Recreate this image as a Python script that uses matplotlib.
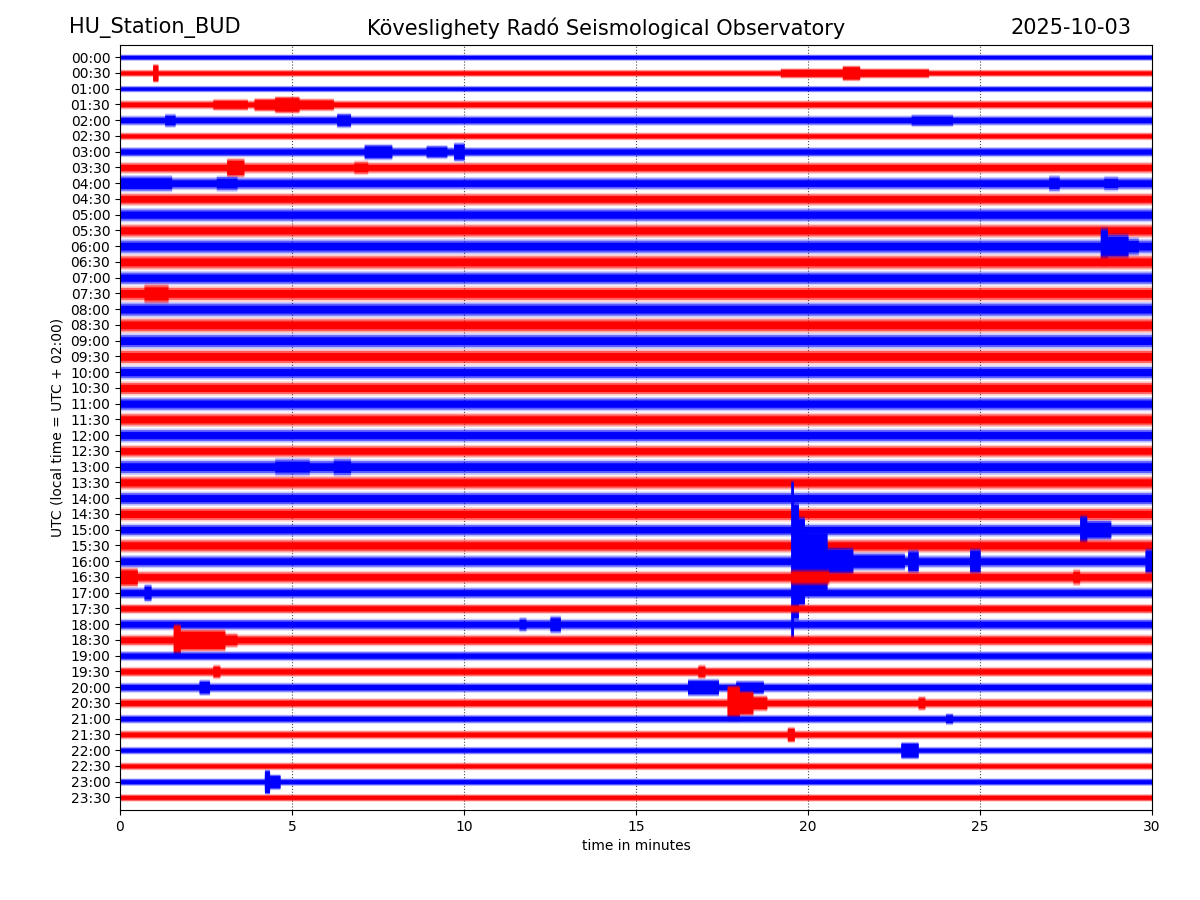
import numpy as np
import matplotlib.pyplot as plt

station = 'HU_Station_BUD'
observatory = 'Köveslighety Radó Seismological Observatory'
day = '2025-10-03'

row_labels = ['00:00', '00:30', '01:00', '01:30', '02:00', '02:30', '03:00', '03:30',
              '04:00', '04:30', '05:00', '05:30', '06:00', '06:30', '07:00', '07:30',
              '08:00', '08:30', '09:00', '09:30', '10:00', '10:30', '11:00', '11:30',
              '12:00', '12:30', '13:00', '13:30', '14:00', '14:30', '15:00', '15:30',
              '16:00', '16:30', '17:00', '17:30', '18:00', '18:30', '19:00', '19:30',
              '20:00', '20:30', '21:00', '21:30', '22:00', '22:30', '23:00', '23:30']

# background noise half-width of each line, in line spacings
base_amp = [0.16, 0.18, 0.16, 0.22, 0.25, 0.19, 0.25, 0.29,
            0.32, 0.32, 0.35, 0.35, 0.38, 0.38, 0.35, 0.38,
            0.38, 0.38, 0.38, 0.38, 0.35, 0.35, 0.35, 0.35,
            0.35, 0.32, 0.38, 0.35, 0.35, 0.35, 0.32, 0.35,
            0.32, 0.32, 0.29, 0.25, 0.29, 0.29, 0.25, 0.25,
            0.25, 0.25, 0.22, 0.22, 0.19, 0.19, 0.19, 0.19]

# (line, start min, end min, half-width)
events = [
    ('00:30', 0.95, 1.10, 0.55), ('00:30', 19.2, 23.5, 0.28), ('00:30', 21.0, 21.5, 0.45),
    ('01:30', 2.7, 3.7, 0.32), ('01:30', 3.9, 4.5, 0.38), ('01:30', 4.5, 5.2, 0.50),
    ('01:30', 5.2, 6.2, 0.35),
    ('02:00', 1.3, 1.6, 0.38), ('02:00', 6.3, 6.7, 0.42), ('02:00', 23.0, 24.2, 0.34),
    ('03:00', 7.1, 7.9, 0.45), ('03:00', 8.9, 9.5, 0.38), ('03:00', 9.7, 10.0, 0.55),
    ('03:30', 3.1, 3.6, 0.55), ('03:30', 6.8, 7.2, 0.38),
    ('04:00', 0.0, 1.5, 0.45), ('04:00', 2.8, 3.4, 0.42), ('04:00', 27.0, 27.3, 0.45),
    ('04:00', 28.6, 29.0, 0.40),
    ('06:00', 28.5, 28.7, 1.15), ('06:00', 28.7, 29.3, 0.75), ('06:00', 29.3, 29.6, 0.50),
    ('07:30', 0.7, 1.4, 0.55),
    ('13:00', 4.5, 5.5, 0.48), ('13:00', 6.2, 6.7, 0.50),
    ('15:00', 27.9, 28.1, 0.90), ('15:00', 28.1, 28.8, 0.58),
    ('16:00', 19.50, 19.58, 5.1), ('16:00', 19.58, 19.72, 3.7), ('16:00', 19.72, 19.90, 2.8),
    ('16:00', 19.90, 20.55, 1.9), ('16:00', 20.55, 21.30, 0.85), ('16:00', 21.30, 22.8, 0.50),
    ('16:00', 22.9, 23.2, 0.70), ('16:00', 24.7, 25.0, 0.78), ('16:00', 29.8, 30.0, 0.78),
    ('16:30', 0.0, 0.5, 0.55), ('16:30', 19.5, 20.6, 0.45), ('16:30', 27.7, 27.9, 0.45),
    ('17:00', 0.7, 0.9, 0.50),
    ('18:00', 11.6, 11.8, 0.40), ('18:00', 12.5, 12.8, 0.50),
    ('18:30', 1.55, 1.75, 1.0), ('18:30', 1.75, 3.05, 0.65), ('18:30', 3.05, 3.4, 0.40),
    ('19:30', 2.7, 2.9, 0.40), ('19:30', 16.8, 17.0, 0.40),
    ('20:00', 2.3, 2.6, 0.45), ('20:00', 16.5, 17.4, 0.50), ('20:00', 17.9, 18.7, 0.40),
    ('20:30', 17.65, 18.0, 1.1), ('20:30', 18.0, 18.4, 0.75), ('20:30', 18.4, 18.8, 0.45),
    ('20:30', 23.2, 23.4, 0.40),
    ('21:00', 24.0, 24.2, 0.32),
    ('21:30', 19.4, 19.6, 0.45),
    ('22:00', 22.7, 23.2, 0.50),
    ('23:00', 4.2, 4.35, 0.75), ('23:00', 4.35, 4.65, 0.45),
]

t = np.linspace(0, 30, 6001)

fig = plt.figure(figsize=(12, 9), dpi=100)
ax = fig.add_axes([0.1, 0.1, 0.86, 0.85])

for i, lab in enumerate(row_labels):
    b = base_amp[i]
    env = np.full(t.shape, b)
    for r, t0, t1, a in events:
        if r == lab:
            m = (t >= t0) & (t <= t1)
            env[m] = np.maximum(env[m], a)
    col = 'blue' if i % 2 == 0 else 'red'
    # soft outer fringe, main band, solid core
    ax.fill_between(t, i - env - 0.3 * b, i + env + 0.3 * b, color=col, alpha=0.2, lw=0)
    ax.fill_between(t, i - env, i + env, color=col, alpha=0.55, lw=0)
    ax.fill_between(t, i - env + 0.35 * b, i + env - 0.35 * b, color=col, lw=0)

ax.set_xlim(0, 30)
ax.set_ylim(47.8, -0.77)
ax.set_yticks(range(len(row_labels)))
ax.set_yticklabels(row_labels)
ax.set_xticks([0, 5, 10, 15, 20, 25, 30])
ax.set_axisbelow(True)
ax.grid(axis='x', ls=':', color='0.3', lw=0.8)
ax.set_xlabel('time in minutes')
ax.set_ylabel('UTC (local time = UTC + 02:00)')

fig.text(0.0575, 0.969, station, fontsize=15, ha='left', va='center')
fig.text(0.505, 0.969, observatory, fontsize=15, ha='center', va='center')
fig.text(0.9425, 0.969, day, fontsize=15, ha='right', va='center')

fig.savefig('out.png')
